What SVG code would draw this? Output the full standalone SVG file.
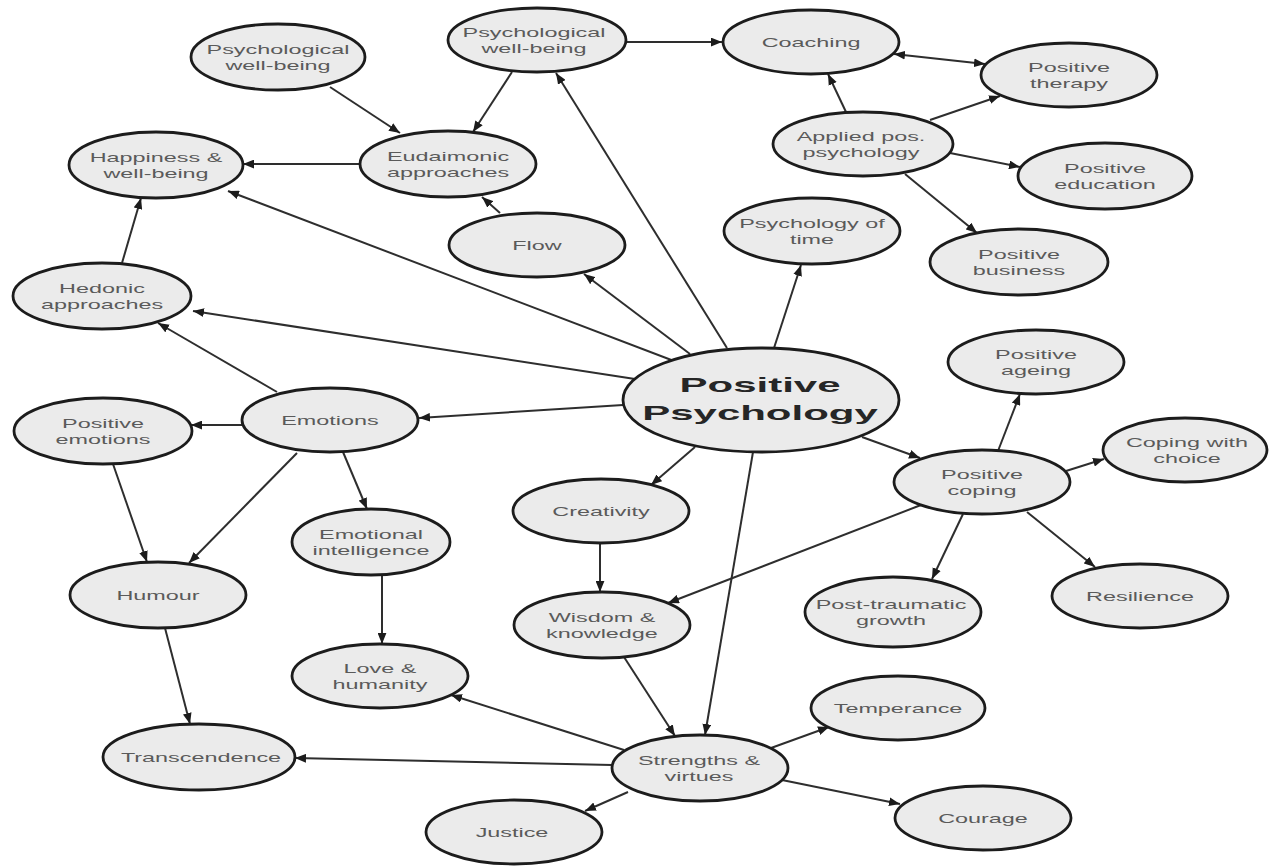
<svg xmlns="http://www.w3.org/2000/svg" width="1273" height="868" viewBox="0 0 1273 868">
<style>
.n ellipse{fill:#ebebeb;stroke:#1c1c1c;stroke-width:2.8}
.n text{font-family:"Liberation Sans",Arial,sans-serif;font-size:13px;fill:#5a5a5a;text-anchor:middle}
.n text.pp{font-size:21px;font-weight:bold;fill:#262626}
#edges line{stroke:#2e2e2e;stroke-width:2;fill:none;marker-end:url(#ah)}
#edges line.both{marker-start:url(#ah)}
</style>
<defs>
<marker id="ah" viewBox="0 0 10 8" refX="10" refY="4" markerWidth="11" markerHeight="9" markerUnits="userSpaceOnUse" orient="auto-start-reverse">
<path d="M0,0 L10,4 L0,8 z" fill="#1c1c1c"/>
</marker>
</defs>
<rect width="1273" height="868" fill="#ffffff"/>
<g id="edges">
<line x1="330" y1="87" x2="400" y2="133"/>
<line x1="512" y1="72" x2="473" y2="132"/>
<line x1="626" y1="42" x2="722" y2="42"/>
<line x1="360" y1="164" x2="243" y2="164"/>
<line x1="500" y1="213" x2="482" y2="197"/>
<line x1="122" y1="263" x2="141" y2="198"/>
<line x1="674" y1="361" x2="228" y2="191"/>
<line x1="635" y1="379" x2="193" y2="311"/>
<line x1="727" y1="348" x2="556" y2="73"/>
<line x1="690" y1="354" x2="584" y2="274"/>
<line x1="774" y1="348" x2="801" y2="265"/>
<line x1="623" y1="405" x2="419" y2="418"/>
<line x1="862" y1="437" x2="920" y2="458"/>
<line x1="695" y1="447" x2="651" y2="485"/>
<line x1="753" y1="452" x2="705" y2="735"/>
<line x1="277" y1="392" x2="158" y2="323"/>
<line x1="243" y1="425" x2="191" y2="425"/>
<line x1="297" y1="453" x2="189" y2="563"/>
<line x1="343" y1="452" x2="367" y2="509"/>
<line x1="113" y1="464" x2="147" y2="562"/>
<line x1="165" y1="628" x2="190" y2="724"/>
<line x1="382" y1="575" x2="382" y2="644"/>
<line x1="600" y1="543" x2="600" y2="592"/>
<line x1="624" y1="657" x2="675" y2="736"/>
<line x1="921" y1="505" x2="668" y2="603"/>
<line x1="998" y1="451" x2="1020" y2="394"/>
<line x1="1066" y1="471" x2="1104" y2="459"/>
<line x1="963" y1="514" x2="932" y2="579"/>
<line x1="1027" y1="512" x2="1095" y2="567"/>
<line x1="624" y1="750" x2="451" y2="695"/>
<line x1="612" y1="765" x2="295" y2="758"/>
<line x1="771" y1="748" x2="829" y2="727"/>
<line x1="628" y1="792" x2="585" y2="811"/>
<line x1="782" y1="780" x2="900" y2="804"/>
<line x1="846" y1="112" x2="828" y2="74"/>
<line x1="930" y1="120" x2="1000" y2="96"/>
<line x1="950" y1="153" x2="1020" y2="167"/>
<line x1="905" y1="174" x2="977" y2="233"/>
<line class="both" x1="894" y1="54" x2="985" y2="64"/>
</g>
<g id="pwb-left" class="n"><ellipse cx="278" cy="57" rx="87" ry="33"/><text transform="translate(278 57) scale(1.8 1)"><tspan x="0" y="-3">Psychological</tspan><tspan x="0" y="13">well-being</tspan></text></g>
<g id="pwb-top" class="n"><ellipse cx="537" cy="40" rx="89" ry="32"/><text transform="translate(534 40) scale(1.8 1)"><tspan x="0" y="-3">Psychological</tspan><tspan x="0" y="13">well-being</tspan></text></g>
<g id="coaching" class="n"><ellipse cx="811" cy="42" rx="88" ry="32"/><text transform="translate(811 42) scale(1.8 1)"><tspan x="0" y="5">Coaching</tspan></text></g>
<g id="positive-therapy" class="n"><ellipse cx="1069" cy="75" rx="88" ry="32"/><text transform="translate(1069 75) scale(1.8 1)"><tspan x="0" y="-3">Positive</tspan><tspan x="0" y="13">therapy</tspan></text></g>
<g id="applied" class="n"><ellipse cx="863" cy="144" rx="90" ry="32"/><text transform="translate(861 144) scale(1.8 1)"><tspan x="0" y="-3">Applied pos.</tspan><tspan x="0" y="13">psychology</tspan></text></g>
<g id="positive-education" class="n"><ellipse cx="1105" cy="176" rx="87" ry="33"/><text transform="translate(1105 176) scale(1.8 1)"><tspan x="0" y="-3">Positive</tspan><tspan x="0" y="13">education</tspan></text></g>
<g id="positive-business" class="n"><ellipse cx="1019" cy="262" rx="89" ry="33"/><text transform="translate(1019 262) scale(1.8 1)"><tspan x="0" y="-3">Positive</tspan><tspan x="0" y="13">business</tspan></text></g>
<g id="psychology-of-time" class="n"><ellipse cx="812" cy="231" rx="88" ry="33"/><text transform="translate(812 231) scale(1.8 1)"><tspan x="0" y="-3">Psychology of</tspan><tspan x="0" y="13">time</tspan></text></g>
<g id="happiness" class="n"><ellipse cx="156" cy="165" rx="87" ry="33"/><text transform="translate(156 165) scale(1.8 1)"><tspan x="0" y="-3">Happiness &amp;</tspan><tspan x="0" y="13">well-being</tspan></text></g>
<g id="eudaimonic" class="n"><ellipse cx="448" cy="164" rx="88" ry="33"/><text transform="translate(448 164) scale(1.8 1)"><tspan x="0" y="-3">Eudaimonic</tspan><tspan x="0" y="13">approaches</tspan></text></g>
<g id="flow" class="n"><ellipse cx="537" cy="245" rx="88" ry="32"/><text transform="translate(537 245) scale(1.8 1)"><tspan x="0" y="5">Flow</tspan></text></g>
<g id="hedonic" class="n"><ellipse cx="102" cy="296" rx="89" ry="33"/><text transform="translate(102 296) scale(1.8 1)"><tspan x="0" y="-3">Hedonic</tspan><tspan x="0" y="13">approaches</tspan></text></g>
<g id="positive-psychology" class="n"><ellipse cx="761" cy="400" rx="138" ry="52"/><text class="pp" transform="translate(760 400) scale(2 1)"><tspan x="0" y="-8">Positive</tspan><tspan x="0" y="20">Psychology</tspan></text></g>
<g id="positive-ageing" class="n"><ellipse cx="1036" cy="362" rx="88" ry="32"/><text transform="translate(1036 362) scale(1.8 1)"><tspan x="0" y="-3">Positive</tspan><tspan x="0" y="13">ageing</tspan></text></g>
<g id="emotions" class="n"><ellipse cx="330" cy="420" rx="88" ry="32"/><text transform="translate(330 420) scale(1.8 1)"><tspan x="0" y="5">Emotions</tspan></text></g>
<g id="positive-emotions" class="n"><ellipse cx="103" cy="431" rx="89" ry="33"/><text transform="translate(103 431) scale(1.8 1)"><tspan x="0" y="-3">Positive</tspan><tspan x="0" y="13">emotions</tspan></text></g>
<g id="coping-with-choice" class="n"><ellipse cx="1185" cy="450" rx="82" ry="32"/><text transform="translate(1187 450) scale(1.8 1)"><tspan x="0" y="-3">Coping with</tspan><tspan x="0" y="13">choice</tspan></text></g>
<g id="positive-coping" class="n"><ellipse cx="982" cy="482" rx="88" ry="32"/><text transform="translate(982 482) scale(1.8 1)"><tspan x="0" y="-3">Positive</tspan><tspan x="0" y="13">coping</tspan></text></g>
<g id="creativity" class="n"><ellipse cx="601" cy="511" rx="88" ry="32"/><text transform="translate(601 511) scale(1.8 1)"><tspan x="0" y="5">Creativity</tspan></text></g>
<g id="emotional-intelligence" class="n"><ellipse cx="371" cy="542" rx="79" ry="33"/><text transform="translate(371 542) scale(1.8 1)"><tspan x="0" y="-3">Emotional</tspan><tspan x="0" y="13">intelligence</tspan></text></g>
<g id="humour" class="n"><ellipse cx="158" cy="595" rx="88" ry="33"/><text transform="translate(158 595) scale(1.8 1)"><tspan x="0" y="5">Humour</tspan></text></g>
<g id="wisdom" class="n"><ellipse cx="602" cy="625" rx="88" ry="33"/><text transform="translate(602 625) scale(1.8 1)"><tspan x="0" y="-3">Wisdom &amp;</tspan><tspan x="0" y="13">knowledge</tspan></text></g>
<g id="post-traumatic" class="n"><ellipse cx="893" cy="612" rx="88" ry="35"/><text transform="translate(891 612) scale(1.8 1)"><tspan x="0" y="-3">Post-traumatic</tspan><tspan x="0" y="13">growth</tspan></text></g>
<g id="resilience" class="n"><ellipse cx="1140" cy="596" rx="88" ry="32"/><text transform="translate(1140 596) scale(1.8 1)"><tspan x="0" y="5">Resilience</tspan></text></g>
<g id="love-humanity" class="n"><ellipse cx="380" cy="676" rx="88" ry="32"/><text transform="translate(380 676) scale(1.8 1)"><tspan x="0" y="-3">Love &amp;</tspan><tspan x="0" y="13">humanity</tspan></text></g>
<g id="temperance" class="n"><ellipse cx="898" cy="708" rx="87" ry="32"/><text transform="translate(898 708) scale(1.8 1)"><tspan x="0" y="5">Temperance</tspan></text></g>
<g id="transcendence" class="n"><ellipse cx="199" cy="757" rx="96" ry="33"/><text transform="translate(201 757) scale(1.8 1)"><tspan x="0" y="5">Transcendence</tspan></text></g>
<g id="strengths" class="n"><ellipse cx="700" cy="768" rx="88" ry="33"/><text transform="translate(699 768) scale(1.8 1)"><tspan x="0" y="-3">Strengths &amp;</tspan><tspan x="0" y="13">virtues</tspan></text></g>
<g id="justice" class="n"><ellipse cx="514" cy="832" rx="88" ry="32"/><text transform="translate(512 832) scale(1.8 1)"><tspan x="0" y="5">Justice</tspan></text></g>
<g id="courage" class="n"><ellipse cx="983" cy="818" rx="88" ry="32"/><text transform="translate(983 818) scale(1.8 1)"><tspan x="0" y="5">Courage</tspan></text></g>
</svg>
